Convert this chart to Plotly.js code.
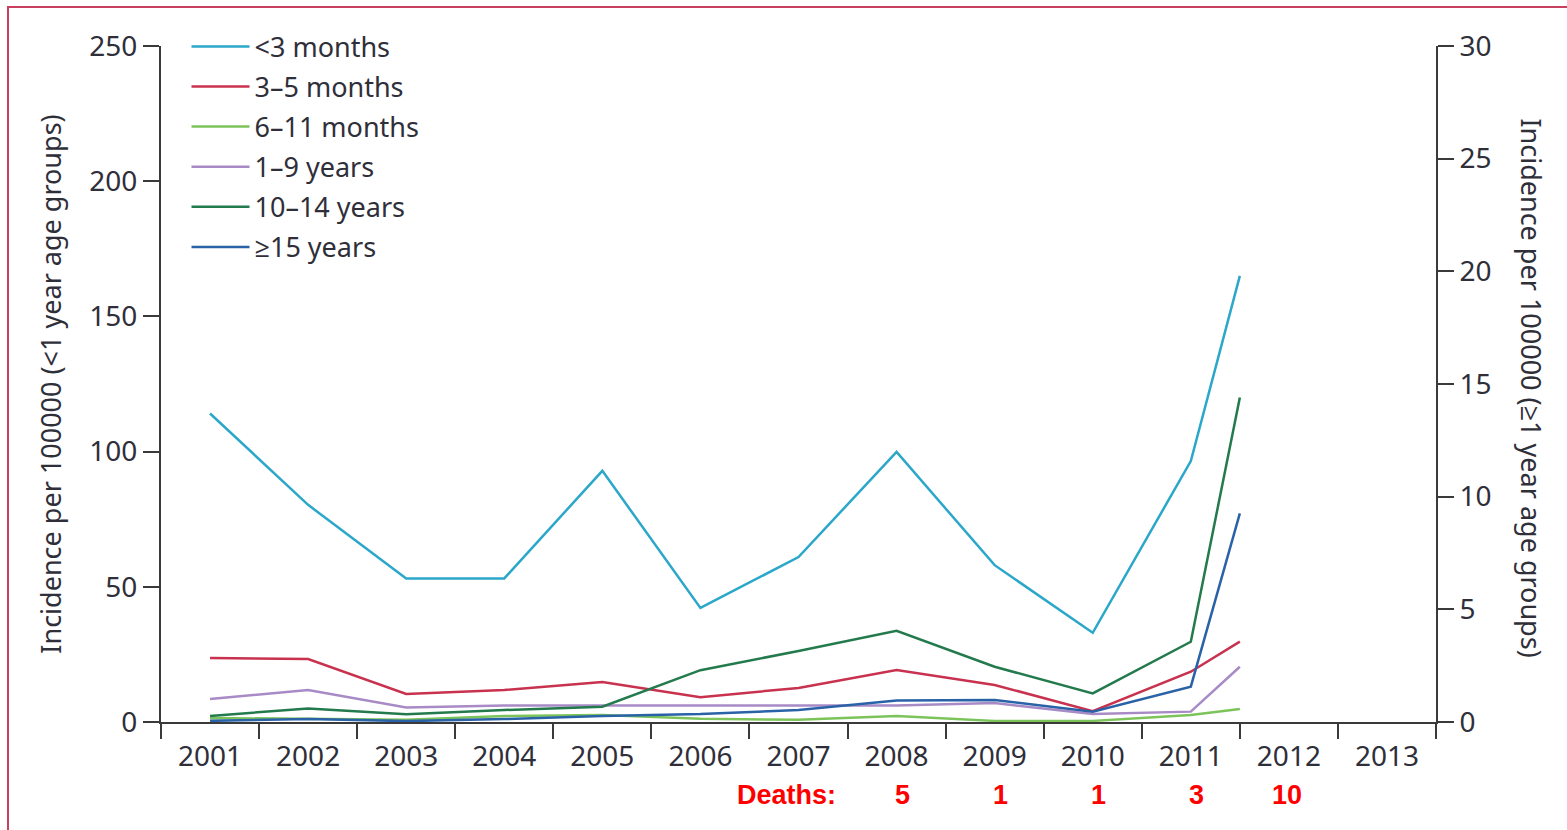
<!DOCTYPE html>
<html>
<head>
<meta charset="utf-8">
<script src="https://cdn.plot.ly/plotly-3.0.1.min.js"></script>
<style>html,body{margin:0;padding:0;background:#fff;}#chart{width:1567px;height:830px;}</style>
</head>
<body>
<div id="chart"></div>
<script>
// ---- data ----
var yearLabels = ["2001","2002","2003","2004","2005","2006","2007","2008","2009","2010","2011","2012","2013"];
var years = [2001, 2002, 2003, 2004, 2005, 2006, 2007, 2008, 2009, 2010, 2011, 2011.5];

// <1 year age groups (left axis)
var under3m   = [114.1, 80.3, 53.1, 53.1, 92.9, 42.2, 61.0, 99.9, 58.0, 33.0, 96.5, 165.0];
var m3to5     = [23.7, 23.3, 10.4, 11.8, 14.8, 9.2, 12.6, 19.2, 13.7, 4.0, 18.6, 29.7];
var m6to11    = [1.5, 1.2, 0.8, 2.2, 2.6, 1.2, 0.8, 2.2, 0.4, 0.4, 2.6, 4.8];

// >=1 year age groups (right axis)
var y1to9     = [1.02, 1.42, 0.64, 0.73, 0.73, 0.73, 0.73, 0.73, 0.84, 0.35, 0.46, 2.45];
var y10to14   = [0.27, 0.60, 0.34, 0.53, 0.68, 2.30, 3.15, 4.05, 2.45, 1.27, 3.56, 14.4];
var y15plus   = [0.05, 0.13, 0.04, 0.13, 0.27, 0.35, 0.53, 0.95, 0.98, 0.46, 1.57, 9.26];

var deathYears = [2008, 2009, 2010, 2011, 2012];
var deaths = [5, 1, 1, 3, 10];

// ---- styles ----
var FONT = "Noto Sans, Open Sans, sans-serif";
var AX = "#3a3a3a";
var TXT = "#2f2f3a";

function tr(name, y, color, axis) {
  return {x: years, y: y, name: name, legendgroup: name, type: "scatter", mode: "lines",
          yaxis: axis, line: {color: color, width: 2.5}, hoverinfo: "skip"};
}

var traces = [
  tr("<3 months", under3m, "#2ba7c9", "y"),
  tr("3–5 months", m3to5, "#c8324f", "y"),
  tr("6–11 months", m6to11, "#7cc45a", "y"),
  tr("1–9 years", y1to9, "#a88ac6", "y2"),
  tr("10–14 years", y10to14, "#237a4c", "y2"),
  tr("≥15 years", y15plus, "#2a62a8", "y2")
];
// invisible trace to activate boundary-tick axis
traces.push({x: [2000.5, 2013.5], y: [null, null], xaxis: "x2", yaxis: "y", type: "scatter",
             mode: "lines", showlegend: false, hoverinfo: "skip"});

var boundaries = [];
for (var i = 0; i <= yearLabels.length; i++) boundaries.push(2000.5 + i);
var centers = yearLabels.map(function (s) { return +s; });

var annotations = [{
  text: "<b>Deaths:</b>", xref: "paper", yref: "paper", x: 0.531, y: -0.108,
  xanchor: "right", yanchor: "middle", showarrow: false,
  font: {family: "Liberation Sans, Arial, sans-serif", size: 27, color: "#ff0000"}
}, {
  text: "Incidence per 100000 (≥1 year age groups)", xref: "paper", yref: "paper",
  x: 1.0, xshift: 96, y: 0.495, xanchor: "center", yanchor: "middle", textangle: 90,
  showarrow: false, font: {family: FONT, size: 27, color: TXT}
}];
deathYears.forEach(function (yr, i) {
  annotations.push({
    text: "<b>" + deaths[i] + "</b>", xref: "x", yref: "paper", x: yr, y: -0.108,
    xshift: deaths[i] >= 10 ? -2 : 6, xanchor: "center", yanchor: "middle", showarrow: false,
    font: {family: "Liberation Sans, Arial, sans-serif", size: 27, color: "#ff0000"}
  });
});

var layout = {
  width: 1567, height: 830,
  margin: {l: 161, r: 131, t: 46, b: 108},
  paper_bgcolor: "#ffffff", plot_bgcolor: "#ffffff",
  font: {family: FONT, color: TXT},
  showlegend: true,
  legend: {x: 0.02, y: 1.035, xanchor: "left", yanchor: "top", bgcolor: "rgba(0,0,0,0)",
           font: {family: FONT, size: 27, color: TXT}, tracegroupgap: 2, traceorder: "grouped",
           itemwidth: 58},
  xaxis: {range: [2000.5, 2013.5], tickmode: "array", tickvals: centers, ticktext: yearLabels,
          ticks: "", showgrid: false, zeroline: false, showline: true, linecolor: AX, linewidth: 2,
          ticklabelstandoff: 8,
          tickfont: {family: FONT, size: 28, color: TXT}, fixedrange: true},
  xaxis2: {overlaying: "x", anchor: "y", side: "bottom", range: [2000.5, 2013.5], tickmode: "array",
           tickvals: boundaries, ticks: "outside", ticklen: 16, tickwidth: 2, tickcolor: AX,
           showticklabels: false, showgrid: false, zeroline: false, showline: false},
  yaxis: {range: [0, 250], tickmode: "array", tickvals: [0, 50, 100, 150, 200, 250],
          ticks: "outside", ticklen: 16, tickwidth: 2, tickcolor: AX, showline: true, linecolor: AX,
          linewidth: 2, showgrid: false, zeroline: false, tickfont: {family: FONT, size: 28, color: TXT},
          title: {text: "Incidence per 100000 (<1 year age groups)", standoff: 20,
                  font: {family: FONT, size: 27, color: TXT}}},
  yaxis2: {range: [0, 30], overlaying: "y", side: "right", anchor: "x", tickmode: "array",
           tickvals: [0, 5, 10, 15, 20, 25, 30], ticks: "outside", ticklen: 16, tickwidth: 2,
           tickcolor: AX, showline: true, linecolor: AX, linewidth: 2, showgrid: false, zeroline: false,
           tickfont: {family: FONT, size: 28, color: TXT}},
  annotations: annotations,
  shapes: [{type: "rect", xref: "paper", yref: "paper",
            x0: (8 - 161) / 1275, x1: 1.2, y0: -0.3, y1: (722 - 7) / 676,
            line: {color: "#c9405e", width: 2}, fillcolor: "rgba(0,0,0,0)", layer: "below"}]
};

Plotly.newPlot("chart", traces, layout, {displayModeBar: false, staticPlot: true});
</script>
</body>
</html>
